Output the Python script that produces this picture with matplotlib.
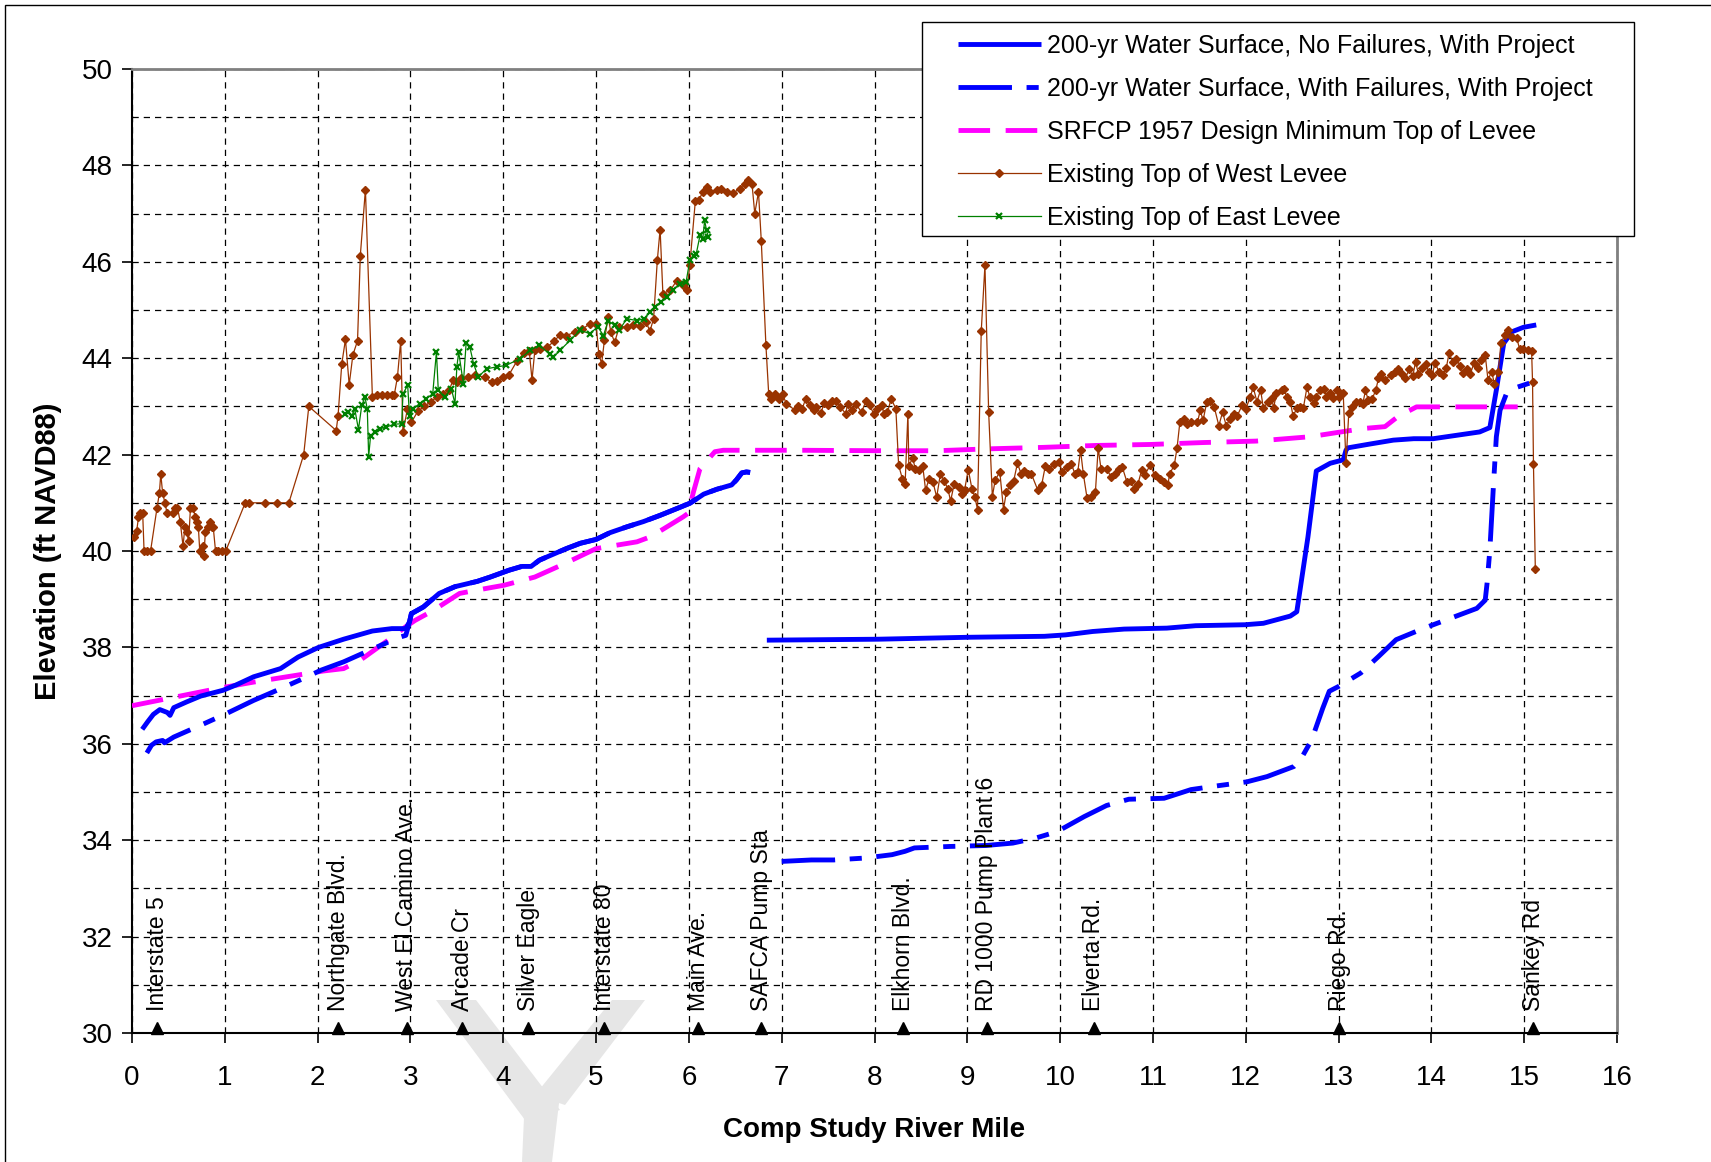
import numpy as np
import matplotlib
matplotlib.use("Agg")
import matplotlib.pyplot as plt
from matplotlib.patches import Polygon, Rectangle

plt.rcParams['font.family'] = ['Liberation Sans', 'DejaVu Sans']

# 200-yr water surface, no failures (NaN = gap)
ws_x = [0.11, 0.17, 0.23, 0.30, 0.38, 0.41, 0.45, 0.59, 0.74, 0.98, 1.12, 1.31, 1.60, 1.79,
        2.01, 2.28, 2.59, 2.80, 2.95, 2.99, 3.01, 3.14, 3.31, 3.48, 3.72, 3.86, 4.06, 4.20,
        4.30, 4.39, 4.68, 4.83, 5.00, 5.15, 5.33, 5.51, 5.69, 5.87, 6.01, 6.09, 6.16, 6.30,
        6.46, 6.51, 6.57, 6.62, 6.66, 6.75,
        6.84, 8.04, 9.01, 9.83, 10.06, 10.35, 10.69, 11.15, 11.46, 11.99, 12.19, 12.48, 12.55,
        12.67, 12.76, 12.91, 13.05, 13.08, 13.10, 13.34, 13.59, 13.81, 14.02, 14.27, 14.52,
        14.63, 14.70, 14.78, 14.87, 14.99, 15.13]
ws_y = [36.30, 36.46, 36.61, 36.71, 36.65, 36.59, 36.75, 36.87, 36.99, 37.11, 37.22, 37.39,
        37.56, 37.80, 38.00, 38.17, 38.34, 38.39, 38.39, 38.53, 38.70, 38.84, 39.12, 39.26,
        39.37, 39.46, 39.60, 39.68, 39.68, 39.81, 40.05, 40.16, 40.24, 40.38, 40.50, 40.61,
        40.74, 40.88, 40.99, 41.09, 41.18, 41.28, 41.37, 41.47, 41.62, 41.64, 41.63, np.nan,
        38.15, 38.17, 38.21, 38.23, 38.26, 38.33, 38.38, 38.40, 38.45, 38.47, 38.50, 38.65,
        38.74, 40.29, 41.66, 41.82, 41.89, 42.09, 42.14, 42.22, 42.30, 42.33, 42.33, 42.40,
        42.47, 42.56, 43.34, 44.31, 44.55, 44.64, 44.69]

# 200-yr water surface, with failures
wf_x = [0.16, 0.21, 0.26, 0.33, 0.35, 0.45, 0.78, 1.02, 1.31, 1.55, 1.84, 2.04, 2.28, 2.56,
        2.76, 2.90, 2.95, 2.99, 3.01, 3.14, 3.31, 3.48, 3.72, 3.86, 4.06, 4.20, 4.30, 4.39,
        4.68, 4.83, 5.00, 5.15, 5.33, 5.51, 5.69, 5.87, 6.01, 6.09, 6.16, 6.30, 6.46, 6.51,
        6.57, 6.62, 6.66, 6.80,
        7.00, 7.32, 7.56, 7.90, 8.19, 8.33, 8.43, 8.81, 9.20, 9.49, 9.73, 9.97, 10.26, 10.50,
        10.74, 11.12, 11.41, 11.70, 12.01, 12.23, 12.52, 12.59, 12.71, 12.83, 12.90, 13.00,
        13.24, 13.43, 13.62, 13.91, 14.20, 14.49, 14.58, 14.60, 14.63, 14.67, 14.70, 14.74,
        14.81, 14.88, 15.10]
wf_y = [35.81, 35.97, 36.04, 36.07, 36.02, 36.14, 36.42, 36.63, 36.90, 37.10, 37.35, 37.53,
        37.70, 37.94, 38.11, 38.22, 38.25, 38.53, 38.70, 38.84, 39.12, 39.26, 39.37, 39.46,
        39.60, 39.68, 39.68, 39.81, 40.05, 40.16, 40.24, 40.38, 40.50, 40.61, 40.74, 40.88,
        40.99, 41.09, 41.18, 41.28, 41.37, 41.47, 41.62, 41.64, 41.63, np.nan,
        33.56, 33.59, 33.59, 33.63, 33.70, 33.77, 33.84, 33.87, 33.89, 33.94, 34.04, 34.18,
        34.49, 34.72, 34.85, 34.87, 35.05, 35.13, 35.21, 35.32, 35.53, 35.67, 36.08, 36.74,
        37.09, 37.19, 37.47, 37.81, 38.16, 38.39, 38.60, 38.81, 38.98, 39.33, 40.02, 41.40,
        42.37, 42.92, 43.27, 43.37, 43.51]

# SRFCP 1957 design minimum top of levee
d57_x = [0.0, 0.93, 1.31, 1.70, 2.06, 2.28, 2.47, 2.76, 2.95, 3.05, 3.24, 3.53, 3.72, 4.01,
         4.34, 4.63, 5.00, 5.44, 5.58, 5.72, 5.94, 5.99, 6.05, 6.12, 6.28, 6.37, 7.20, 8.10,
         8.67, 9.24, 9.82, 10.39, 10.97, 11.54, 12.11, 12.69, 13.26, 13.50, 13.66, 13.77,
         13.84, 14.93]
d57_y = [36.79, 37.15, 37.28, 37.40, 37.51, 37.56, 37.75, 38.15, 38.43, 38.56, 38.76, 39.12,
         39.19, 39.29, 39.46, 39.71, 40.05, 40.19, 40.29, 40.45, 40.71, 40.78, 41.23, 41.71,
         42.06, 42.09, 42.09, 42.08, 42.08, 42.12, 42.15, 42.19, 42.21, 42.25, 42.28, 42.37,
         42.54, 42.58, 42.82, 42.92, 42.99, 42.99]

# existing top of west levee
west_x = [0.02, 0.05, 0.07, 0.09, 0.115, 0.13, 0.165, 0.20, 0.27, 0.295, 0.31, 0.33, 0.355,
          0.377, 0.445, 0.46, 0.49, 0.52, 0.55, 0.57, 0.59, 0.61, 0.63, 0.66, 0.68, 0.70,
          0.715, 0.73, 0.76, 0.775, 0.79, 0.82, 0.84, 0.86, 0.875, 0.90, 0.93, 0.97, 1.01,
          1.22, 1.26, 1.435, 1.565, 1.69, 1.85, 1.905, 2.20, 2.22, 2.26, 2.30, 2.34, 2.38,
          2.43, 2.46, 2.515, 2.59, 2.636, 2.69, 2.744, 2.80, 2.826, 2.86, 2.895, 2.92, 2.967,
          3.01, 3.08, 3.15, 3.22, 3.29, 3.35, 3.42, 3.46, 3.50, 3.55, 3.62, 3.70, 3.80, 3.88,
          3.93, 4.00, 4.06, 4.15, 4.22, 4.28, 4.31, 4.34, 4.40, 4.47, 4.55, 4.61, 4.68, 4.77,
          4.85, 4.93, 5.00, 5.03, 5.06, 5.09, 5.13, 5.16, 5.20, 5.25, 5.33, 5.40, 5.47, 5.54,
          5.58, 5.62, 5.66, 5.69, 5.72, 5.80, 5.87, 5.94, 5.98, 6.01, 6.07, 6.11, 6.15, 6.19,
          6.23, 6.30, 6.35, 6.41, 6.48, 6.55, 6.60, 6.64, 6.68, 6.71, 6.75, 6.78, 6.83, 6.86,
          6.88, 6.93, 6.97, 7.01, 7.05, 7.14, 7.18, 7.22, 7.26, 7.31, 7.35, 7.37, 7.42, 7.46,
          7.50, 7.54, 7.59, 7.63, 7.69, 7.71, 7.76, 7.80, 7.86, 7.91, 7.95, 7.99, 8.03, 8.08,
          8.10, 8.14, 8.18, 8.23, 8.26, 8.30, 8.33, 8.36, 8.37, 8.41, 8.44, 8.48, 8.52, 8.55,
          8.59, 8.63, 8.67, 8.71, 8.75, 8.79, 8.82, 8.86, 8.91, 8.94, 8.97, 9.01, 9.05, 9.08,
          9.11, 9.15, 9.19, 9.23, 9.27, 9.30, 9.35, 9.39, 9.42, 9.46, 9.50, 9.54, 9.58, 9.61,
          9.65, 9.69, 9.76, 9.80, 9.84, 9.88, 9.93, 9.99, 10.02, 10.07, 10.12, 10.16, 10.19,
          10.22, 10.25, 10.29, 10.33, 10.38, 10.41, 10.44, 10.50, 10.55, 10.59, 10.63, 10.67,
          10.72, 10.76, 10.80, 10.84, 10.88, 10.91, 10.97, 11.02, 11.08, 11.12, 11.16, 11.18,
          11.23, 11.26, 11.29, 11.33, 11.37, 11.41, 11.48, 11.51, 11.54, 11.58, 11.62, 11.66,
          11.71, 11.75, 11.79, 11.83, 11.87, 11.91, 11.96, 12.00, 12.05, 12.08, 12.12, 12.16,
          12.19, 12.24, 12.28, 12.30, 12.33, 12.39, 12.41, 12.44, 12.48, 12.51, 12.55, 12.58,
          12.62, 12.66, 12.69, 12.73, 12.76, 12.80, 12.84, 12.87, 12.91, 12.94, 12.98, 13.01,
          13.05, 13.08, 13.11, 13.15, 13.19, 13.23, 13.26, 13.29, 13.32, 13.36, 13.40, 13.43,
          13.46, 13.50, 13.56, 13.61, 13.64, 13.68, 13.72, 13.76, 13.80, 13.83, 13.86, 13.90,
          13.94, 13.97, 14.01, 14.04, 14.08, 14.12, 14.16, 14.19, 14.23, 14.27, 14.31, 14.34,
          14.38, 14.42, 14.46, 14.50, 14.54, 14.58, 14.61, 14.65, 14.68, 14.72, 14.75, 14.79,
          14.83, 14.87, 14.92, 14.95, 14.99, 15.04, 15.08, 15.09, 15.10, 15.12]
west_y = [40.30, 40.41, 40.70, 40.79, 40.79, 40.00, 40.00, 40.00, 40.90, 41.20, 41.60, 41.20,
          41.00, 40.79, 40.79, 40.90, 40.90, 40.60, 40.10, 40.50, 40.39, 40.20, 40.90, 40.90,
          40.70, 40.60, 40.50, 40.00, 40.10, 39.90, 40.39, 40.50, 40.60, 40.50, 40.50, 40.00,
          40.00, 40.00, 40.00, 41.00, 41.00, 41.00, 41.00, 41.00, 42.00, 43.00, 42.50, 42.80,
          43.88, 44.39, 43.45, 44.07, 44.36, 46.13, 47.50, 43.20, 43.24, 43.24, 43.24, 43.24,
          43.24, 43.61, 44.36, 42.47, 42.94, 42.67, 42.90, 43.00, 43.10, 43.20, 43.25, 43.35,
          43.55, 43.50, 43.58, 43.62, 43.65, 43.60, 43.50, 43.52, 43.60, 43.65, 43.95, 44.10,
          44.15, 43.55, 44.16, 44.20, 44.23, 44.35, 44.49, 44.47, 44.54, 44.60, 44.71, 44.71,
          44.08, 43.89, 44.37, 44.85, 44.54, 44.33, 44.65, 44.65, 44.68, 44.66, 44.75, 44.56,
          44.82, 46.03, 46.67, 45.34, 45.41, 45.61, 45.51, 45.41, 45.93, 47.27, 47.29, 47.45,
          47.55, 47.45, 47.48, 47.52, 47.45, 47.43, 47.52, 47.62, 47.69, 47.62, 47.00, 47.45,
          46.44, 44.27, 43.26, 43.16, 43.26, 43.16, 43.26, 43.05, 42.93, 43.00, 42.95, 43.16,
          43.02, 42.93, 42.99, 42.86, 43.07, 43.02, 43.12, 43.12, 42.99, 42.85, 43.05, 42.93,
          43.05, 42.88, 43.12, 43.02, 42.85, 42.95, 43.02, 42.85, 42.88, 43.16, 42.95, 41.78,
          41.50, 41.40, 42.85, 41.76, 41.93, 41.71, 41.69, 41.76, 41.27, 41.50, 41.43, 41.12,
          41.60, 41.46, 41.29, 41.04, 41.40, 41.33, 41.19, 41.26, 41.69, 41.29, 41.13, 40.86,
          44.56, 45.93, 42.88, 41.13, 41.47, 41.64, 40.86, 41.22, 41.36, 41.46, 41.82, 41.60,
          41.67, 41.60, 41.60, 41.26, 41.36, 41.76, 41.71, 41.80, 41.85, 41.64, 41.74, 41.81,
          41.60, 41.64, 42.09, 41.60, 41.10, 41.13, 41.22, 42.14, 41.71, 41.71, 41.53, 41.60,
          41.71, 41.74, 41.43, 41.46, 41.29, 41.40, 41.69, 41.57, 41.78, 41.57, 41.50, 41.43,
          41.36, 41.60, 41.78, 42.14, 42.67, 42.74, 42.64, 42.67, 42.67, 42.92, 42.71, 43.09,
          43.12, 42.99, 42.60, 42.88, 42.60, 42.74, 42.85, 42.81, 43.02, 42.95, 43.20, 43.40,
          43.10, 43.34, 42.96, 43.10, 43.17, 42.96, 43.28, 43.34, 43.37, 43.20, 43.10, 42.80,
          42.96, 42.99, 42.96, 43.40, 43.20, 43.08, 43.20, 43.34, 43.37, 43.20, 43.27, 43.17,
          43.34, 43.20, 43.28, 41.82, 42.86, 42.98, 43.10, 43.10, 43.05, 43.33, 43.13, 43.15,
          43.33, 43.58, 43.67, 43.55, 43.65, 43.72, 43.77, 43.67, 43.58, 43.77, 43.63, 43.93,
          43.67, 43.79, 43.89, 43.72, 43.65, 43.91, 43.72, 43.65, 43.79, 44.10, 43.93, 43.98,
          43.84, 43.69, 43.77, 43.67, 43.91, 43.79, 43.96, 44.07, 43.55, 43.72, 43.46, 43.72,
          44.31, 44.48, 44.59, 44.43, 44.41, 44.20, 44.20, 44.18, 44.14, 43.51, 41.80, 39.62]

# existing top of east levee
east_x = [2.295, 2.33, 2.37, 2.40, 2.44, 2.475, 2.51, 2.535, 2.55, 2.57, 2.62, 2.67, 2.74,
          2.82, 2.905, 2.92, 2.97, 2.99, 3.03, 3.10, 3.17, 3.24, 3.28, 3.30, 3.37, 3.44,
          3.48, 3.50, 3.52, 3.57, 3.60, 3.64, 3.68, 3.73, 3.82, 3.93, 4.03, 4.18, 4.29,
          4.39, 4.50, 4.54, 4.61, 4.72, 4.83, 4.93, 5.02, 5.08, 5.13, 5.20, 5.25, 5.33,
          5.44, 5.52, 5.58, 5.63, 5.70, 5.76, 5.83, 5.90, 5.97, 6.01, 6.05, 6.08, 6.12,
          6.15, 6.17, 6.19, 6.21]
east_y = [42.85, 42.88, 42.81, 42.95, 42.52, 43.02, 43.19, 42.95, 41.96, 42.38, 42.47, 42.54,
          42.57, 42.63, 42.64, 43.26, 43.44, 42.81, 42.95, 43.06, 43.16, 43.26, 44.13, 43.33,
          43.19, 43.37, 43.06, 43.82, 44.13, 43.47, 44.31, 44.23, 43.89, 43.61, 43.78, 43.82,
          43.85, 43.99, 44.16, 44.27, 44.08, 44.02, 44.16, 44.37, 44.58, 44.51, 44.65, 44.47,
          44.78, 44.68, 44.58, 44.82, 44.78, 44.82, 44.96, 45.06, 45.16, 45.27, 45.41, 45.54,
          45.58, 46.03, 46.13, 46.17, 46.55, 46.48, 46.86, 46.65, 46.51]

# river mile landmarks
loc_names = ["Interstate 5", "Northgate Blvd.", "West El Camino Ave.", "Arcade Cr",
             "Silver Eagle", "Interstate 80", "Main Ave.", "SAFCA Pump Sta", "Elkhorn Blvd.",
             "RD 1000 Pump Plant 6", "Elverta Rd.", "Riego Rd.", "Sankey Rd"]
loc_x = [0.27, 2.22, 2.96, 3.56, 4.27, 5.09, 6.10, 6.78, 8.31, 9.21, 10.36, 13.01, 15.10]

W, H = 1711, 1162
fig = plt.figure(figsize=(W / 100, H / 100), dpi=100)
ax = fig.add_axes([132 / W, 1 - 1033 / H, (1617 - 132) / W, (1033 - 69) / H])
ax.set_facecolor('none')


def fpoly(pts, **kw):
    # polygon given in figure pixels (y down)
    return Polygon([(px / W, 1 - py / H) for px, py in pts], closed=True,
                   transform=fig.transFigure, **kw)


# faint watermark fragment behind the plot
wm = '#e6e6e6'
for pts in [[(436, 1000), (476, 1000), (560, 1110), (525, 1120)],
            [(612, 1000), (645, 1000), (565, 1105), (535, 1095)],
            [(525, 1095), (560, 1095), (552, 1162), (522, 1162)]]:
    fig.patches.append(fpoly(pts, facecolor=wm, edgecolor='none', zorder=-5))
# chart border
fig.patches.append(Rectangle((5 / W, -0.05), 1.2, 1 - 5 / H + 0.05, transform=fig.transFigure,
                             fill=False, edgecolor='black', lw=1.0, zorder=-4))

ax.plot(ws_x, ws_y, color='#0000ff', lw=3.5, solid_capstyle='butt', zorder=5,
        label="200-yr Water Surface, No Failures, With Project")
ax.plot(wf_x, wf_y, color='#0000ff', lw=3.5, dashes=(11, 3, 2.5, 3), zorder=4,
        label="200-yr Water Surface, With Failures, With Project")
ax.plot(d57_x, d57_y, color='#ff00ff', lw=3.5, dashes=(6.5, 3.2), zorder=3,
        label="SRFCP 1957 Design Minimum Top of Levee")
ax.plot(west_x, west_y, color='#993300', lw=0.9, marker='D', ms=4.4, mec='#993300',
        zorder=6, label="Existing Top of West Levee")
ax.plot(east_x, east_y, color='#008000', lw=0.9, marker='x', ms=5, mew=1.6, zorder=7,
        label="Existing Top of East Levee")

ax.plot(loc_x, [30.1] * len(loc_x), linestyle='none', marker='^', color='black', ms=8,
        clip_on=False, zorder=8)
for name, x in zip(loc_names, loc_x):
    ax.text(x, 30.45, name, rotation=90, ha='center', va='bottom', fontsize=16.5, zorder=8)

ax.set_xlim(0, 16)
ax.set_ylim(30, 50)
ax.set_xticks(np.arange(0, 17, 1))
ax.set_yticks(np.arange(30, 51, 2))
ax.set_yticks(np.arange(30, 51, 1), minor=True)
ax.tick_params(axis='both', which='major', labelsize=20, direction='out', length=7, width=1.2)
ax.tick_params(axis='y', which='minor', length=0)
ax.tick_params(axis='x', pad=16)
ax.tick_params(axis='y', pad=7)
ax.grid(True, which='both', color='black', linestyle=(0, (5, 4)), lw=0.9)
ax.set_axisbelow(True)
for s in ['left', 'bottom']:
    ax.spines[s].set_color('black')
    ax.spines[s].set_linewidth(1.5)
for s in ['top', 'right']:
    ax.spines[s].set_color('#808080')
    ax.spines[s].set_linewidth(2)

ax.set_xlabel("Comp Study River Mile", fontsize=20, fontweight='bold', labelpad=19)
ax.set_ylabel("Elevation (ft NAVD88)", fontsize=21, fontweight='bold', labelpad=14)

# legend box drawn separately so the horizontal padding can match
fig.patches.append(Rectangle((922 / W, 1 - 236 / H), (1634 - 922) / W, (236 - 22) / H,
                             transform=fig.transFigure, facecolor='white',
                             edgecolor='black', lw=1.0, zorder=15))
leg = fig.legend(loc='upper left', bbox_to_anchor=(958 / W, 1 - 34 / H), fontsize=18,
                 frameon=False, handlelength=3.3, handletextpad=0.25, labelspacing=0.76,
                 borderpad=0, borderaxespad=0)
leg.set_zorder(20)

fig.savefig("out.png", dpi=100)
